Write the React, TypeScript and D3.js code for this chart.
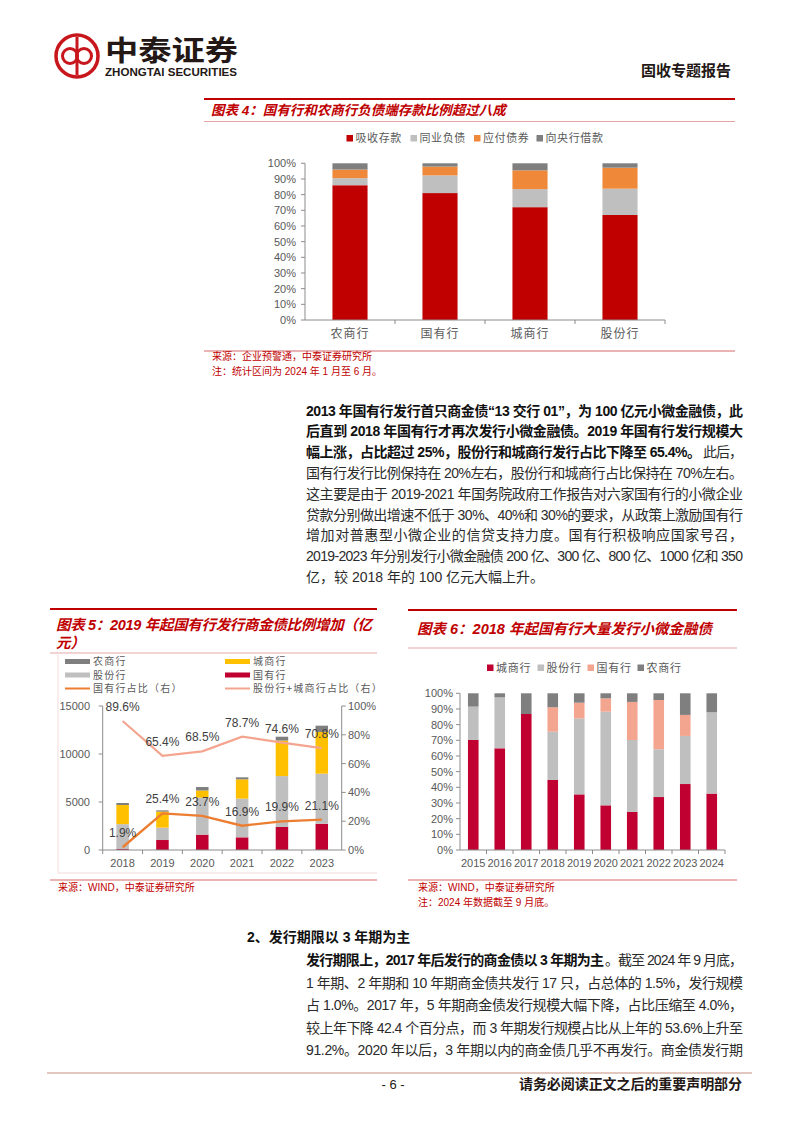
import React from 'react';
import * as d3 from 'd3';

// ---------- Chart 4 data ----------
const c4Categories = ['农商行', '国有行', '城商行', '股份行'];
const c4Series = ['吸收存款', '同业负债', '应付债券', '向央行借款'];
const c4Deposits = [86.0, 81.0, 72.0, 67.0];
const c4Interbank = [4.5, 11.3, 11.5, 16.8];
const c4Bonds = [5.5, 5.6, 12.0, 13.4];
const c4CentralBank = [4.0, 2.1, 4.5, 2.8];
const c4Ticks = [0, 10, 20, 30, 40, 50, 60, 70, 80, 90, 100];

// ---------- Chart 5 data (亿元) ----------
const c5Years = ['2018', '2019', '2020', '2021', '2022', '2023'];
const c5Series = ['农商行', '股份行', '城商行', '国有行'];
const c5State = [95, 1040, 1600, 1320, 2400, 2730];
const c5Joint = [2600, 1290, 3850, 4030, 5300, 5220];
const c5City = [1990, 1670, 750, 2010, 3700, 4350];
const c5Rural = [210, 130, 360, 210, 400, 650];
const c5StateShare = [1.9, 25.4, 23.7, 16.9, 19.9, 21.1];
const c5JointCityShare = [89.6, 65.4, 68.5, 78.7, 74.6, 70.8];
const c5LeftTicks = [0, 5000, 10000, 15000];
const c5RightTicks = [0, 20, 40, 60, 80, 100];

// ---------- Chart 6 data (%) ----------
const c6Years = ['2015', '2016', '2017', '2018', '2019', '2020', '2021', '2022', '2023', '2024'];
const c6Series = ['城商行', '股份行', '国有行', '农商行'];
const c6City = [70.2, 64.9, 86.8, 44.7, 35.5, 28.5, 24.3, 33.8, 42.1, 36.0];
const c6Joint = [21.3, 32.5, 0, 30.8, 48.5, 59.8, 45.9, 30.5, 30.7, 51.9];
const c6State = [0, 0, 0, 15.6, 10.0, 8.5, 24.3, 31.4, 13.4, 0];
const c6Rural = [8.5, 2.6, 13.2, 8.9, 6.0, 3.2, 5.5, 4.3, 13.8, 12.1];
const c6Ticks = [0, 10, 20, 30, 40, 50, 60, 70, 80, 90, 100];

// ---------- Text ----------
type Seg = { t: string; b?: boolean; x?: number; len?: number };
const para1: Seg[][] = [
  [{ t: '2013 年国有行发行首只商金债“13 交行 01”，为 100 亿元小微金融债，此', b: true }],
  [{ t: '后直到 2018 年国有行才再次发行小微金融债。2019 年国有行发行规模大', b: true }],
  [{ t: '幅上涨，占比超过 25%，股份行和城商行发行占比下降至 65.4%。', b: true, len: 395 }, { t: '此后，', x: 703, len: 40 }],
  [{ t: '国有行发行比例保持在 20%左右，股份行和城商行占比保持在 70%左右。' }],
  [{ t: '这主要是由于 2019-2021 年国务院政府工作报告对六家国有行的小微企业' }],
  [{ t: '贷款分别做出增速不低于 30%、40%和 30%的要求，从政策上激励国有行' }],
  [{ t: '增加对普惠型小微企业的信贷支持力度。国有行积极响应国家号召，' }],
  [{ t: '2019-2023 年分别发行小微金融债 200 亿、300 亿、800 亿、1000 亿和 350' }],
  [{ t: '亿，较 2018 年的 100 亿元大幅上升。', len: 0 }],
];
const para2: Seg[][] = [
  [{ t: '发行期限上，2017 年后发行的商金债以 3 年期为主', b: true, len: 298 }, { t: '。截至 2024 年 9 月底，', x: 605, len: 138 }],
  [{ t: '1 年期、2 年期和 10 年期商金债共发行 17 只，占总体的 1.5%，发行规模' }],
  [{ t: '占 1.0%。2017 年，5 年期商金债发行规模大幅下降，占比压缩至 4.0%，' }],
  [{ t: '较上年下降 42.4 个百分点，而 3 年期发行规模占比从上年的 53.6%上升至' }],
  [{ t: '91.2%。2020 年以后，3 年期以内的商金债几乎不再发行。商金债发行期' }],
];

const SANS = "'Liberation Sans', Arial, 'Noto Sans CJK SC', sans-serif";
const CJK = "'Noto Sans CJK SC', 'Liberation Sans', sans-serif";
const RED = '#C00000';
const AXIS = '#8C8C8C';
const TICKTXT = '#595959';

function Paragraph({ lines, x0, x1, y0, dy }: { lines: Seg[][]; x0: number; x1: number; y0: number; dy: number }) {
  return (
    <g fontSize={14} fontFamily={SANS}>
      {lines.map((segs, i) => (
        <g key={i}>
          {segs.map((s, j) => {
            const len = s.len === undefined ? x1 - x0 : s.len;
            const props: any = {};
            if (len > 0) {
              props.textLength = len;
              props.lengthAdjust = 'spacing';
            }
            return (
              <text key={j} x={s.x ?? x0} y={y0 + i * dy} fontWeight={s.b ? 700 : 400} fill={s.b ? '#111' : '#2b2b2b'} {...props}>
                {s.t}
              </text>
            );
          })}
        </g>
      ))}
    </g>
  );
}

function Chart4() {
  const x = d3.scaleBand<string>().domain(c4Categories).range([305, 665]);
  const y = d3.scaleLinear().domain([0, 100]).range([320, 163.3]);
  const rows = c4Categories.map((c, i) => ({
    cat: c,
    [c4Series[0]]: c4Deposits[i],
    [c4Series[1]]: c4Interbank[i],
    [c4Series[2]]: c4Bonds[i],
    [c4Series[3]]: c4CentralBank[i],
  }));
  const stack = d3.stack<any>().keys(c4Series)(rows);
  const colors = d3.scaleOrdinal<string>().domain(c4Series).range([RED, '#BFBFBF', '#F0883A', '#7F7F7F']);
  const bw = x.bandwidth() * 0.39;
  const legendX = [346.5, 410.5, 474, 536.5];
  return (
    <g>
      {c4Series.map((s, i) => (
        <g key={s}>
          <rect x={legendX[i]} y={135} width={6.5} height={6.5} fill={colors(s)} />
          <text x={legendX[i] + 9} y={142} fontSize={11} fontFamily={CJK} fill={TICKTXT} letterSpacing={0.6}>{s}</text>
        </g>
      ))}
      {stack.map((layer) => (
        <g key={layer.key} fill={colors(layer.key)}>
          {layer.map((d, i) => (
            <rect key={i} x={x(c4Categories[i])! + (x.bandwidth() - bw) / 2} y={y(d[1])} width={bw} height={Math.max(0, y(d[0]) - y(d[1]))} />
          ))}
        </g>
      ))}
      <line x1={305} x2={305} y1={y(100)} y2={y(0)} stroke={AXIS} />
      {c4Ticks.map((t) => (
        <g key={t}>
          <line x1={301} x2={305} y1={y(t)} y2={y(t)} stroke={AXIS} />
          <text x={296} y={y(t) + 4} textAnchor="end" fontSize={11} fontFamily={SANS} fill={TICKTXT}>{t}%</text>
        </g>
      ))}
      <line x1={305} x2={665} y1={y(0)} y2={y(0)} stroke={AXIS} />
      {c4Categories.map((c) => (
        <g key={c}>
          <line x1={x(c)! + x.bandwidth()} x2={x(c)! + x.bandwidth()} y1={y(0)} y2={y(0) + 4} stroke={AXIS} />
          <text x={x(c)! + x.bandwidth() / 2} y={337.5} textAnchor="middle" fontSize={12} fontFamily={CJK} fill={TICKTXT} letterSpacing={1}>{c}</text>
        </g>
      ))}
    </g>
  );
}

function Chart5() {
  const x = d3.scaleBand<string>().domain(c5Years).range([102.7, 341.7]);
  const yL = d3.scaleLinear().domain([0, 15000]).range([850, 706]);
  const yR = d3.scaleLinear().domain([0, 100]).range([850, 706]);
  const order = ['国有行', '股份行', '城商行', '农商行'];
  const rows = c5Years.map((yr, i) => ({ yr, 国有行: c5State[i], 股份行: c5Joint[i], 城商行: c5City[i], 农商行: c5Rural[i] }));
  const stack = d3.stack<any>().keys(order)(rows);
  const colors: Record<string, string> = { 农商行: '#7F7F7F', 股份行: '#BFBFBF', 城商行: '#FFC000', 国有行: '#C00030' };
  const bw = 12.5;
  const cx = (yr: string) => x(yr)! + x.bandwidth() / 2;
  const line = d3.line<number>().x((_, i) => cx(c5Years[i])).y((v) => yR(v));
  const legend = [
    { name: c5Series[0], col: colors['农商行'], kind: 'bar', x: 65, y: 661.5 },
    { name: c5Series[2], col: colors['城商行'], kind: 'bar', x: 225, y: 661.5 },
    { name: c5Series[1], col: colors['股份行'], kind: 'bar', x: 65, y: 675 },
    { name: c5Series[3], col: colors['国有行'], kind: 'bar', x: 225, y: 675 },
    { name: '国有行占比（右）', col: '#ED7D31', kind: 'line', x: 65, y: 688.5 },
    { name: '股份行+城商行占比（右）', col: '#F4A590', kind: 'line', x: 225, y: 688.5 },
  ];
  return (
    <g>
      {legend.map((l) => (
        <g key={l.name}>
          {l.kind === 'bar' ? (
            <rect x={l.x} y={l.y - 2.5} width={25} height={5} fill={l.col} />
          ) : (
            <line x1={l.x} x2={l.x + 25} y1={l.y} y2={l.y} stroke={l.col} strokeWidth={2} />
          )}
          <text x={l.x + 28} y={l.y + 3.5} fontSize={10} fontFamily={CJK} fill={TICKTXT} letterSpacing={1.2}>{l.name}</text>
        </g>
      ))}
      {stack.map((layer) => (
        <g key={layer.key} fill={colors[layer.key]}>
          {layer.map((d, i) => (
            <rect key={i} x={cx(c5Years[i]) - bw / 2} y={yL(d[1])} width={bw} height={Math.max(0, yL(d[0]) - yL(d[1]))} />
          ))}
        </g>
      ))}
      <path d={line(c5JointCityShare)!} fill="none" stroke="#F4A590" strokeWidth={2.2} />
      <path d={line(c5StateShare)!} fill="none" stroke="#ED7D31" strokeWidth={2.4} />
      {c5JointCityShare.map((v, i) => (
        <text key={'a' + i} x={cx(c5Years[i])} y={yR(v) - 10} textAnchor="middle" fontSize={12} fontFamily={SANS} fill="#404040">{v.toFixed(1)}%</text>
      ))}
      {c5StateShare.map((v, i) => (
        <text key={'b' + i} x={cx(c5Years[i])} y={yR(v) - 10} textAnchor="middle" fontSize={12} fontFamily={SANS} fill="#404040">{v.toFixed(1)}%</text>
      ))}
      <line x1={102.7} x2={102.7} y1={706} y2={850} stroke={AXIS} />
      {c5LeftTicks.map((t) => (
        <g key={t}>
          <line x1={98.7} x2={102.7} y1={yL(t)} y2={yL(t)} stroke={AXIS} />
          <text x={90} y={yL(t) + 4} textAnchor="end" fontSize={11} fontFamily={SANS} fill={TICKTXT}>{t}</text>
        </g>
      ))}
      <line x1={341.7} x2={341.7} y1={706} y2={850} stroke={AXIS} />
      {c5RightTicks.map((t) => (
        <g key={t}>
          <line x1={341.7} x2={345.7} y1={yR(t)} y2={yR(t)} stroke={AXIS} />
          <text x={348} y={yR(t) + 4} fontSize={11} fontFamily={SANS} fill={TICKTXT}>{t}%</text>
        </g>
      ))}
      <line x1={102.7} x2={341.7} y1={850} y2={850} stroke={AXIS} />
      {c5Years.map((yr) => (
        <g key={yr}>
          <line x1={x(yr)!} x2={x(yr)!} y1={850} y2={854} stroke={AXIS} />
          <text x={cx(yr)} y={867} textAnchor="middle" fontSize={11} fontFamily={SANS} fill={TICKTXT}>{yr}</text>
        </g>
      ))}
    </g>
  );
}

function Chart6() {
  const x = d3.scaleBand<string>().domain(c6Years).range([460, 725]);
  const y = d3.scaleLinear().domain([0, 100]).range([850, 693.3]);
  const rows = c6Years.map((yr, i) => ({ yr, 城商行: c6City[i], 股份行: c6Joint[i], 国有行: c6State[i], 农商行: c6Rural[i] }));
  const stack = d3.stack<any>().keys(c6Series)(rows);
  const colors = d3.scaleOrdinal<string>().domain(c6Series).range(['#C00030', '#BFBFBF', '#F4A590', '#7F7F7F']);
  const bw = x.bandwidth() * 0.4;
  const legendX = [487, 537.5, 587.5, 637.5];
  return (
    <g>
      {c6Series.map((s, i) => (
        <g key={s}>
          <rect x={legendX[i]} y={664.5} width={6.5} height={6.5} fill={colors(s)} />
          <text x={legendX[i] + 9} y={672} fontSize={11} fontFamily={CJK} fill={TICKTXT} letterSpacing={0.8}>{s}</text>
        </g>
      ))}
      {stack.map((layer) => (
        <g key={layer.key} fill={colors(layer.key)}>
          {layer.map((d, i) => (
            <rect key={i} x={x(c6Years[i])! + (x.bandwidth() - bw) / 2} y={y(d[1])} width={bw} height={Math.max(0, y(d[0]) - y(d[1]))} />
          ))}
        </g>
      ))}
      <line x1={460} x2={460} y1={y(100)} y2={y(0)} stroke={AXIS} />
      {c6Ticks.map((t) => (
        <g key={t}>
          <line x1={456} x2={460} y1={y(t)} y2={y(t)} stroke={AXIS} />
          <text x={453} y={y(t) + 4} textAnchor="end" fontSize={11} fontFamily={SANS} fill={TICKTXT}>{t}%</text>
        </g>
      ))}
      <line x1={460} x2={725} y1={y(0)} y2={y(0)} stroke={AXIS} />
      {c6Years.map((yr) => (
        <g key={yr}>
          <line x1={x(yr)! + x.bandwidth()} x2={x(yr)! + x.bandwidth()} y1={850} y2={854} stroke={AXIS} />
          <text x={x(yr)! + x.bandwidth() / 2} y={866.5} textAnchor="middle" fontSize={11} fontFamily={SANS} fill={TICKTXT}>{yr}</text>
        </g>
      ))}
    </g>
  );
}

function Logo() {
  return (
    <g>
      <circle cx={77} cy={56} r={21} fill="none" stroke="#C8161D" strokeWidth={3.5} />
      <circle cx={70} cy={56} r={7.5} fill="none" stroke="#C8161D" strokeWidth={3} />
      <circle cx={84} cy={56} r={7.5} fill="none" stroke="#C8161D" strokeWidth={3} />
      <line x1={77} x2={77} y1={37} y2={75} stroke="#C8161D" strokeWidth={3} />
      <text x={105} y={61} fontSize={28} fontWeight={700} fontFamily={CJK} fill="#231815" textLength={133} lengthAdjust="spacingAndGlyphs">中泰证券</text>
      <text x={105} y={76} fontSize={10} fontWeight={700} fontFamily={SANS} fill="#231815" textLength={132} lengthAdjust="spacingAndGlyphs">ZHONGTAI SECURITIES</text>
    </g>
  );
}

export default function App() {
  return (
    <div style={{ position: 'absolute', left: 0, top: 0, width: 802, height: 1133, background: '#fff' }}>
      <svg width={802} height={1133} viewBox="0 0 802 1133" style={{ display: 'block' }}>
        <rect x={0} y={0} width={802} height={1133} fill="#fff" />
        <Logo />
        <text x={731} y={76} textAnchor="end" fontSize={15} fontWeight={700} fontFamily={CJK} fill="#231815">固收专题报告</text>

        {/* Chart 4 block */}
        <line x1={204} x2={735} y1={99} y2={99} stroke={RED} strokeWidth={2} />
        <text x={211} y={115} fontSize={13.5} fontWeight={700} fontStyle="italic" fontFamily={SANS} fill={RED}>图表 4：国有行和农商行负债端存款比例超过八成</text>
        <line x1={204} x2={735} y1={121.5} y2={121.5} stroke="#E6A5A5" strokeWidth={1} />
        <Chart4 />
        <line x1={204} x2={735} y1={351} y2={351} stroke="#D66B6B" strokeWidth={1.2} />
        <text x={212} y={360} fontSize={10} fontFamily={SANS} fill={RED}>来源：企业预警通，中泰证券研究所</text>
        <text x={212} y={375} fontSize={10} fontFamily={SANS} fill={RED}>注：统计区间为 2024 年 1 月至 6 月。</text>

        <Paragraph lines={para1} x0={306} x1={743} y0={415.5} dy={20.8} />

        {/* Chart 5 block */}
        <line x1={50} x2={377} y1={609} y2={609} stroke={RED} strokeWidth={2} />
        <text x={56} y={630} fontSize={14.5} fontWeight={700} fontStyle="italic" fontFamily={SANS} fill={RED} textLength={316} lengthAdjust="spacing">图表 5：2019 年起国有行发行商金债比例增加（亿</text>
        <text x={56} y={648} fontSize={14.5} fontWeight={700} fontStyle="italic" fontFamily={SANS} fill={RED}>元）</text>
        <line x1={50} x2={377} y1={653} y2={653} stroke="#E6A5A5" strokeWidth={1} />
        <line x1={58} x2={377} y1={873} y2={873} stroke="#F2DCDB" strokeWidth={1} />
        <line x1={58} x2={58} y1={655} y2={873} stroke="#F2DCDB" strokeWidth={1} />
        <Chart5 />
        <line x1={50} x2={377} y1={880} y2={880} stroke="#D66B6B" strokeWidth={1.2} />
        <text x={58} y={891} fontSize={10} fontFamily={SANS} fill={RED}>来源：WIND，中泰证券研究所</text>

        {/* Chart 6 block */}
        <line x1={408} x2={737} y1={610} y2={610} stroke={RED} strokeWidth={2} />
        <text x={417} y={634} fontSize={14.5} fontWeight={700} fontStyle="italic" fontFamily={SANS} fill={RED}>图表 6：2018 年起国有行大量发行小微金融债</text>
        <line x1={408} x2={737} y1={648} y2={648} stroke="#E6A5A5" strokeWidth={1} />
        <Chart6 />
        <line x1={408} x2={737} y1={880} y2={880} stroke="#D66B6B" strokeWidth={1.2} />
        <text x={418} y={891} fontSize={10} fontFamily={SANS} fill={RED}>来源：WIND，中泰证券研究所</text>
        <text x={418} y={906} fontSize={10} fontFamily={SANS} fill={RED}>注：2024 年数据截至 9 月底。</text>

        {/* Section 2 */}
        <text x={247} y={942} fontSize={14} fontWeight={700} fontFamily={SANS} fill="#111">2、发行期限以 3 年期为主</text>
        <Paragraph lines={para2} x0={306} x1={743} y0={965} dy={22.5} />

        {/* Footer */}
        <line x1={47} x2={752} y1={1073} y2={1073} stroke="#D8B4A8" strokeWidth={1.5} />
        <text x={393} y={1089} textAnchor="middle" fontSize={13} fontFamily={SANS} fill="#231815">- 6 -</text>
        <text x={742} y={1089} textAnchor="end" fontSize={14} fontWeight={700} fontFamily={CJK} fill="#231815" textLength={223} lengthAdjust="spacing">请务必阅读正文之后的重要声明部分</text>
      </svg>
    </div>
  );
}
